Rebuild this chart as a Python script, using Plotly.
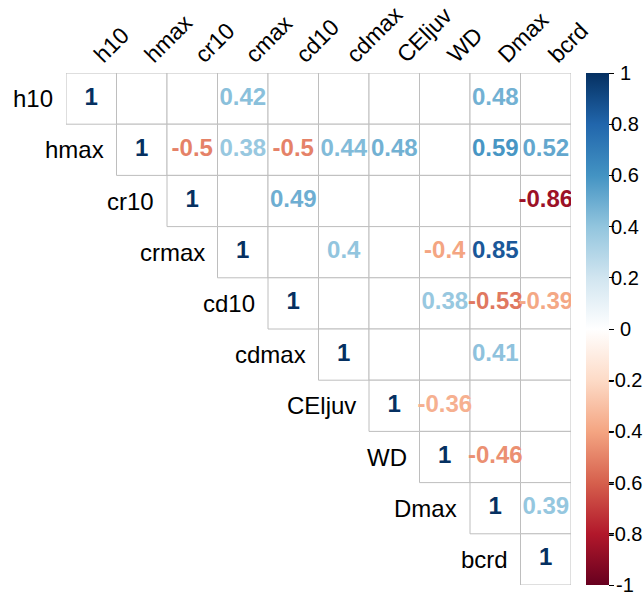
import plotly.graph_objects as go

row_labels = ["h10", "hmax", "cr10", "crmax", "cd10", "cdmax", "CEljuv", "WD", "Dmax", "bcrd"]
col_labels = ["h10", "hmax", "cr10", "cmax", "cd10", "cdmax", "CEljuv", "WD", "Dmax", "bcrd"]

N = None
corr = [
    [1, N, N, 0.42, N, N, N, N, 0.48, N],
    [N, 1, -0.5, 0.38, -0.5, 0.44, 0.48, N, 0.59, 0.52],
    [N, N, 1, N, 0.49, N, N, N, N, -0.86],
    [N, N, N, 1, N, 0.4, N, -0.4, 0.85, N],
    [N, N, N, N, 1, N, N, 0.38, -0.53, -0.39],
    [N, N, N, N, N, 1, N, N, 0.41, N],
    [N, N, N, N, N, N, 1, -0.36, N, N],
    [N, N, N, N, N, N, N, 1, -0.46, N],
    [N, N, N, N, N, N, N, N, 1, 0.39],
    [N, N, N, N, N, N, N, N, N, 1],
]

cbar_ticks = [1, 0.8, 0.6, 0.4, 0.2, 0, -0.2, -0.4, -0.6, -0.8, -1]

anchors = ["#67001F", "#B2182B", "#D6604D", "#F4A582", "#FDDBC7", "#FFFFFF",
           "#D1E5F0", "#92C5DE", "#4393C3", "#2166AC", "#053061"]
colorscale = [[i / 10, c] for i, c in enumerate(anchors)]


def hex2rgb(h):
    h = h.lstrip("#")
    return tuple(int(h[k:k + 2], 16) for k in (0, 2, 4))


def color_at(v):
    t = (v + 1) / 2 * 10
    i = min(int(t), 9)
    f = t - i
    a, b = hex2rgb(anchors[i]), hex2rgb(anchors[i + 1])
    r = [round(a[k] + (b[k] - a[k]) * f) for k in range(3)]
    return "rgb(%d,%d,%d)" % tuple(r)


n = len(row_labels)
xs, ys, txt, cols = [], [], [], []
for i in range(n):
    for j in range(n):
        v = corr[i][j]
        if v is None:
            continue
        xs.append(j)
        ys.append(i)
        txt.append(f"{v:g}")
        cols.append(color_at(v))

FONT = "Liberation Sans, Arial"
fig = go.Figure()

shapes = []
for i in range(n):
    for j in range(i, n):
        shapes.append(dict(type="rect", xref="x", yref="y",
                           x0=j - 0.5, x1=j + 0.5, y0=i - 0.5, y1=i + 0.5,
                           line=dict(color="#BEBEBE", width=1),
                           fillcolor="white", layer="below"))

fig.add_trace(go.Scatter(
    x=xs, y=ys, text=txt, mode="text",
    textfont=dict(color=cols, size=24, family=FONT, weight="bold"),
    hoverinfo="skip", showlegend=False))

fig.add_trace(go.Scatter(
    x=[0, 0], y=[0, 0], mode="markers",
    marker=dict(color=[-1, 1], colorscale=colorscale, cmin=-1, cmax=1, opacity=0, size=1,
                showscale=True,
                colorbar=dict(x=(586 - 66) / 505, xanchor="left", xpad=0, ypad=0,
                              y=0.5, yanchor="middle", len=512, lenmode="pixels",
                              thickness=23, outlinewidth=0,
                              tickvals=cbar_ticks, ticks="outside", ticklen=5,
                              tickcolor="black", tickwidth=1, showticklabels=False)),
    hoverinfo="skip", showlegend=False))

annotations = []
for i, lab in enumerate(row_labels):
    annotations.append(dict(x=i - 0.5, y=i, xref="x", yref="y", text=lab,
                            showarrow=False, xanchor="right", yanchor="middle",
                            xshift=-11, font=dict(size=24, color="black", family=FONT)))
for v in cbar_ticks:
    annotations.append(dict(x=(625 - 66) / 505, y=(v + 1) / 2, xref="paper", yref="paper",
                            text=f"{v:g}", showarrow=False, xanchor="center", yanchor="middle",
                            font=dict(size=20, color="black", family=FONT)))

fig.update_layout(
    width=644, height=595,
    margin=dict(l=66, r=73, t=73, b=10),
    plot_bgcolor="white", paper_bgcolor="white",
    shapes=shapes, annotations=annotations,
    xaxis=dict(range=[-0.5, n - 0.5], side="top", tickmode="array",
               tickvals=list(range(n)), ticktext=col_labels, tickangle=-45,
               tickfont=dict(size=23, color="black", family=FONT),
               ticklabelstandoff=0, ticklabelshift=4,
               showgrid=False, zeroline=False, showline=False, ticks="",
               automargin=False, fixedrange=True),
    yaxis=dict(range=[n - 0.5, -0.5], showticklabels=False, showgrid=False,
               zeroline=False, showline=False, ticks="", automargin=False, fixedrange=True),
)

fig.write_html("out.html")
